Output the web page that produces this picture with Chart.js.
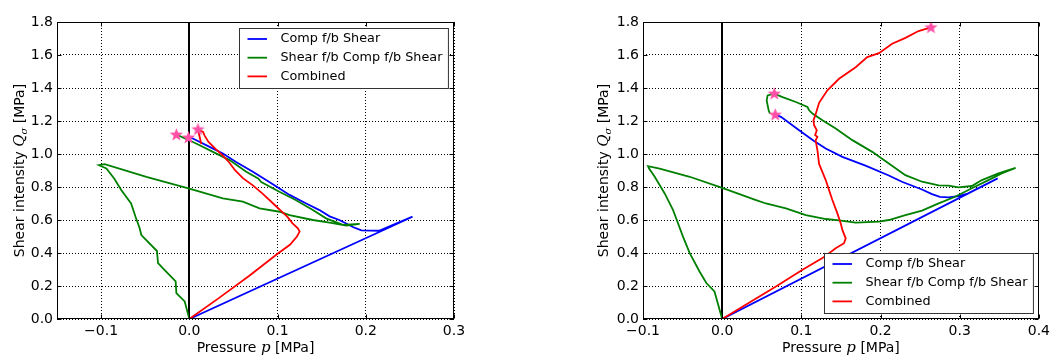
<!DOCTYPE html>
<html>
<head>
<meta charset="utf-8">
<script src="https://cdn.jsdelivr.net/npm/chart.js@4.4.0/dist/chart.umd.min.js"></script>
<style>
  body { margin: 0; background: #fff; width: 1054px; height: 356px; overflow: hidden; position: relative; }
  canvas { position: absolute; top: 0; }
  #left { left: 0; }
  #right { left: 590px; }
</style>
</head>
<body>
<canvas id="left" width="470" height="356"></canvas>
<canvas id="right" width="464" height="356"></canvas>
<script>
const seriesNames = ['Comp f/b Shear', 'Shear f/b Comp f/b Shear', 'Combined'];
const seriesColors = ['#0000ff', '#008000', '#ff0000'];

const leftXTicks = [-0.1, 0, 0.1, 0.2, 0.3];
const rightXTicks = [-0.1, 0, 0.1, 0.2, 0.3, 0.4];
const yTicks = [0, 0.2, 0.4, 0.6, 0.8, 1.0, 1.2, 1.4, 1.6, 1.8];

// left panel, [p, Q] pairs
const leftComp = [[0,0],[0.253,0.62],[0.215,0.535],[0.195,0.537],[0.186,0.556],[0.170,0.60],[0.159,0.622],
  [0.1475,0.66],[0.1325,0.70],[0.1136,0.752],[0.100,0.798],[0.087,0.842],[0.072,0.892],[0.053,0.952],
  [0.038,1.003],[0.023,1.043],[0.004,1.094],[-0.001,1.10]];
const leftShear = [[0,0],[-0.0053,0.107],[-0.0147,0.157],[-0.0155,0.228],[-0.026,0.285],[-0.0355,0.338],
  [-0.0367,0.412],[-0.0544,0.509],[-0.0563,0.55],[-0.061,0.62],[-0.066,0.70],[-0.077,0.78],[-0.085,0.85],
  [-0.094,0.912],[-0.1024,0.932],[-0.096,0.938],[-0.0487,0.862],[0,0.79],[0.038,0.731],[0.0607,0.711],
  [0.0796,0.671],[0.1023,0.650],[0.1136,0.63],[0.140,0.60],[0.159,0.584],[0.178,0.566],[0.193,0.576],
  [0.174,0.57],[0.155,0.61],[0.14,0.66],[0.121,0.72],[0.102,0.771],[0.0815,0.83],[0.078,0.852],
  [0.0645,0.892],[0.0456,0.963],[0.0267,1.013],[0.0117,1.053],[0,1.083],[-0.0147,1.118]];
const leftCombined = [[0,0],[0.033,0.125],[0.068,0.262],[0.1,0.395],[0.114,0.45],[0.122,0.50],[0.125,0.53],
  [0.123,0.55],[0.117,0.58],[0.111,0.62],[0.106,0.645],[0.095,0.70],[0.083,0.76],[0.072,0.81],[0.061,0.852],
  [0.052,0.90],[0.045,0.95],[0.038,0.99],[0.03,1.03],[0.0215,1.075],[0.0175,1.11],[0.0155,1.134],
  [0.0098,1.148],[0.011,1.12],[0.0136,1.06]];
const leftStars = [[-0.0147,1.118],[-0.001,1.10],[0.0098,1.15]];

// right panel
const rightComp = [[0,0],[0.348,0.852],[0.31,0.76],[0.2985,0.745],[0.286,0.737],[0.275,0.74],[0.265,0.757],
  [0.2524,0.785],[0.227,0.832],[0.2105,0.87],[0.181,0.93],[0.1518,0.983],[0.1308,1.033],[0.116,1.079],
  [0.0972,1.144],[0.0742,1.225],[0.067,1.239]];
const rightShear = [[0,0],[-0.0068,0.117],[-0.0097,0.167],[-0.020,0.218],[-0.0286,0.288],[-0.041,0.399],
  [-0.0495,0.499],[-0.0558,0.58],[-0.062,0.66],[-0.0726,0.761],[-0.0852,0.862],[-0.0923,0.912],
  [-0.0936,0.926],[-0.079,0.912],[-0.041,0.862],[0,0.795],[0.0428,0.721],[0.0553,0.70],[0.0805,0.671],
  [0.1057,0.63],[0.131,0.606],[0.1476,0.598],[0.1686,0.584],[0.198,0.59],[0.2105,0.600],[0.2314,0.630],
  [0.2524,0.657],[0.2734,0.701],[0.2943,0.741],[0.3153,0.792],[0.3363,0.842],[0.353,0.882],[0.3706,0.916],
  [0.349,0.882],[0.328,0.842],[0.3153,0.806],[0.2985,0.798],[0.286,0.808],[0.2734,0.81],[0.2524,0.832],
  [0.2314,0.872],[0.2105,0.943],[0.1895,1.013],[0.1644,1.084],[0.1434,1.154],[0.1266,1.204],[0.114,1.245],
  [0.1098,1.265],[0.1077,1.285],[0.0931,1.315],[0.0763,1.345],[0.0658,1.366],[0.0574,1.355],
  [0.0562,1.325],[0.0587,1.265],[0.0604,1.245]];
const rightCombined = [[0,0],[0.0679,0.197],[0.1015,0.298],[0.1266,0.369],[0.1434,0.429],[0.1539,0.459],
  [0.156,0.489],[0.1518,0.54],[0.1497,0.58],[0.1455,0.64],[0.1392,0.721],[0.135,0.781],[0.1308,0.842],
  [0.1224,0.94],[0.1203,1.023],[0.118,1.083],[0.1203,1.104],[0.1174,1.114],[0.1195,1.144],[0.1161,1.174],
  [0.1153,1.204],[0.118,1.24],[0.1224,1.31],[0.1329,1.386],[0.1476,1.456],[0.1686,1.526],[0.1833,1.587],
  [0.198,1.611],[0.2147,1.668],[0.2315,1.704],[0.248,1.745],[0.2637,1.768]];
const rightStars = [[0.0658,1.366],[0.067,1.239],[0.2637,1.768]];

// filled five point star used as point style
const starImg = document.createElement('canvas');
starImg.width = 15; starImg.height = 15;
(() => {
  const c = starImg.getContext('2d');
  c.beginPath();
  for (let i = 0; i < 10; i++) {
    const r = i % 2 ? 2.9 : 7;
    const a = -Math.PI / 2 + i * Math.PI / 5;
    c.lineTo(7.5 + r * Math.cos(a), 7.9 + r * Math.sin(a));
  }
  c.closePath();
  c.fillStyle = '#ff4fa6';
  c.fill();
})();

const fmt = v => (v < -1e-9 ? '\u2212' : '') + Math.abs(v).toFixed(1);
const pts = arr => arr.map(p => ({x: p[0], y: p[1]}));

function drawParts(ctx, parts, cx, baseY) {
  let w = 0;
  parts.forEach(p => { ctx.font = p.font; p.w = ctx.measureText(p.t).width; w += p.w; });
  let x = cx - w / 2;
  parts.forEach(p => { ctx.font = p.font; ctx.fillText(p.t, x, baseY + (p.dy || 0)); x += p.w; });
}

const decor = {
  id: 'decor',
  beforeDatasetsDraw(chart) {
    const {ctx, chartArea: a, scales: {x}} = chart;
    const x0 = Math.round(x.getPixelForValue(0));
    ctx.save();
    ctx.strokeStyle = '#000';
    ctx.lineWidth = 2;
    ctx.beginPath(); ctx.moveTo(x0, a.top); ctx.lineTo(x0, a.bottom); ctx.stroke();
    ctx.restore();
  },
  afterDraw(chart, args, opts) {
    const {ctx, chartArea: a, scales: {x, y}} = chart;
    ctx.save();
    // frame
    ctx.strokeStyle = '#000';
    ctx.lineWidth = 1;
    const L = Math.round(a.left) + 0.5, R = Math.round(a.right) - 0.5;
    const T = Math.round(a.top) + 0.5, B = Math.round(a.bottom) - 0.5;
    ctx.strokeRect(L, T, R - L, B - T);
    // inward ticks on all sides
    ctx.beginPath();
    x.ticks.forEach(t => {
      const px = Math.round(x.getPixelForValue(t.value)) + 0.5;
      ctx.moveTo(px, B); ctx.lineTo(px, B - 4);
      ctx.moveTo(px, T); ctx.lineTo(px, T + 4);
    });
    y.ticks.forEach(t => {
      const py = Math.round(y.getPixelForValue(t.value)) + 0.5;
      ctx.moveTo(L, py); ctx.lineTo(L + 4, py);
      ctx.moveTo(R, py); ctx.lineTo(R - 4, py);
    });
    ctx.stroke();

    // legend
    const sets = chart.data.datasets.filter(d => d.inLegend).sort((p, q) => p.idx - q.idx);
    ctx.font = '12.8px "DejaVu Sans"';
    const tw = Math.max(...sets.map(d => ctx.measureText(d.label).width));
    const bw = 41 + tw + 6, bh = 60;
    const bx = Math.round(a.right - 6 - bw) + 0.5;
    const by = Math.round(opts.legendTop ? a.top + 6 : a.bottom - 6 - bh) + 0.5;
    ctx.fillStyle = '#fff';
    ctx.fillRect(bx, by, bw, bh);
    ctx.strokeStyle = '#333';
    ctx.strokeRect(bx, by, bw, bh);
    ctx.textBaseline = 'middle';
    sets.forEach((d, i) => {
      const ry = by + 10.5 + i * 18.7;
      ctx.strokeStyle = d.borderColor;
      ctx.lineWidth = 1.8;
      ctx.beginPath(); ctx.moveTo(bx + 8, ry); ctx.lineTo(bx + 27.5, ry); ctx.stroke();
      ctx.fillStyle = '#000';
      ctx.fillText(d.label, bx + 41, ry);
    });

    // axis titles
    ctx.textBaseline = 'alphabetic';
    ctx.fillStyle = '#000';
    drawParts(ctx, [
      {t: 'Pressure ', font: '14px "DejaVu Sans"'},
      {t: 'p', font: 'italic 15px "DejaVu Serif"'},
      {t: ' [MPa]', font: '14px "DejaVu Sans"'}
    ], (a.left + a.right) / 2, 352);
    ctx.translate(opts.yTitleX, (a.top + a.bottom) / 2);
    ctx.rotate(-Math.PI / 2);
    drawParts(ctx, [
      {t: 'Shear intensity ', font: '14px "DejaVu Sans"'},
      {t: 'Q', font: 'italic 15px "DejaVu Serif"'},
      {t: '\u03c3', font: 'italic 10px "DejaVu Serif"', dy: 3},
      {t: ' [MPa]', font: '14px "DejaVu Sans"'}
    ], 0, 5);
    ctx.restore();
  }
};

function makeChart(id, series, stars, xMin, xMax, xTicks, cfg) {
  const lines = series.map((s, i) => ({
    label: seriesNames[i],
    data: pts(s),
    idx: i,
    inLegend: true,
    showLine: true,
    borderColor: seriesColors[i],
    backgroundColor: seriesColors[i],
    borderWidth: 1.8,
    pointRadius: 0,
    order: 3 - i
  }));
  lines.push({
    label: 'stars',
    data: pts(stars),
    showLine: false,
    pointStyle: starImg,
    pointRadius: 7,
    order: 0
  });
  const tickFont = {family: 'DejaVu Sans', size: 14};
  return new Chart(document.getElementById(id), {
    type: 'scatter',
    data: {datasets: lines},
    options: {
      responsive: false,
      animation: false,
      layout: {padding: {top: 22, right: cfg.padRight, left: 0, bottom: 0}},
      plugins: {
        legend: {display: false},
        tooltip: {enabled: false},
        decor: {legendTop: cfg.legendTop, yTitleX: cfg.yTitleX}
      },
      scales: {
        x: {
          type: 'linear', min: xMin, max: xMax,
          afterBuildTicks: s => { s.ticks = xTicks.map(v => ({value: v})); },
          afterFit: s => { s.height = 37; },
          ticks: {color: '#000', font: tickFont, padding: 4, maxRotation: 0, autoSkip: false, callback: fmt},
          grid: {color: '#000', lineWidth: 1, drawTicks: false},
          border: {display: false, dash: [1, 2]}
        },
        y: {
          type: 'linear', min: 0, max: 1.8,
          afterBuildTicks: s => { s.ticks = yTicks.map(v => ({value: v})); },
          afterFit: s => { s.width = cfg.yWidth; },
          ticks: {color: '#000', font: tickFont, padding: 4, autoSkip: false, callback: fmt},
          grid: {color: '#000', lineWidth: 1, drawTicks: false},
          border: {display: false, dash: [1, 2]}
        }
      }
    },
    plugins: [decor]
  });
}

makeChart('left', [leftComp, leftShear, leftCombined], leftStars, -0.15, 0.3, leftXTicks,
  {padRight: 16, yWidth: 57, legendTop: true, yTitleX: 19});
makeChart('right', [rightComp, rightShear, rightCombined], rightStars, -0.1, 0.4, rightXTicks,
  {padRight: 13, yWidth: 53, legendTop: false, yTitleX: 13});
</script>
</body>
</html>
